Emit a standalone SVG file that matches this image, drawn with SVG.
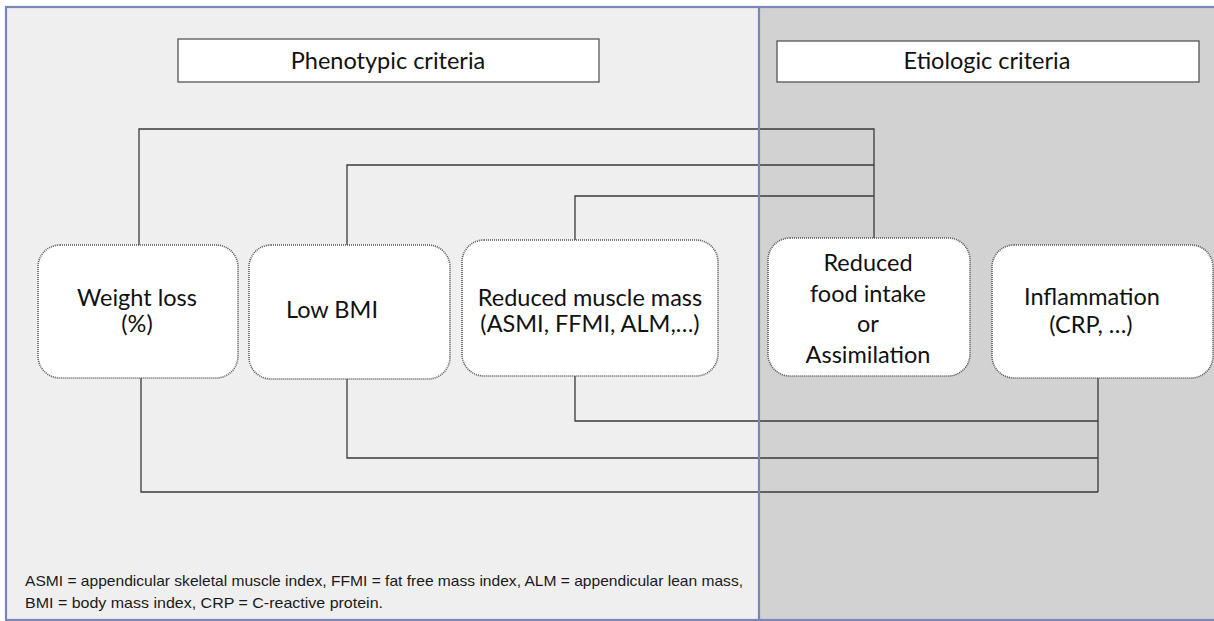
<svg xmlns="http://www.w3.org/2000/svg" width="1214" height="621" viewBox="0 0 1214 621">
<style>
.hdr{fill:#fff;stroke:#555;stroke-width:1.3}
.node{fill:#fff;stroke:#555;stroke-width:1.6;stroke-dasharray:1 1}
.t{font-family:Lato,"Open Sans","Liberation Sans",sans-serif;font-size:23.5px;fill:#111;text-anchor:middle}
.con{fill:none;stroke:#3a3a3a;stroke-width:1.3}
.foot{font-family:"Liberation Sans",Arial,sans-serif;font-size:14.5px;fill:#1a1a1a}
</style>
<rect x="0" y="0" width="1214" height="621" fill="#ffffff"/>
<rect x="6" y="7" width="753" height="613" fill="#efefef"/>
<rect x="759" y="7" width="460" height="613" fill="#d2d2d2"/>
<g id="connectors">
<path class="con" d="M139,245 V129 H874 V238"/>
<path class="con" d="M347,245 V165 H874"/>
<path class="con" d="M575,240 V196 H874"/>
<path class="con" d="M575,376 V421 H1098"/>
<path class="con" d="M347,379 V458 H1098"/>
<path class="con" d="M141,378 V492 H1098"/>
<path class="con" d="M1098,378 V492"/>
</g>
<rect x="6" y="7" width="1214" height="613" fill="none" stroke="#7a86b8" stroke-width="2.2"/>
<line x1="759" y1="7" x2="759" y2="621" stroke="#7a86b8" stroke-width="2.2"/>
<g id="phenotypic">
<rect class="hdr" x="178" y="39" width="421" height="43"/>
<text class="t" x="388" y="69">Phenotypic criteria</text>
</g>
<g id="etiologic">
<rect class="hdr" x="777" y="41" width="422" height="41"/>
<text class="t" x="987" y="69">Etiologic criteria</text>
</g>
<g id="weight-loss">
<rect class="node" x="38" y="245" width="200" height="133" rx="22"/>
<text class="t" x="137" y="306">Weight loss</text>
<text class="t" x="137" y="332">(%)</text>
</g>
<g id="low-bmi">
<rect class="node" x="249" y="245" width="201" height="134" rx="22"/>
<text class="t" x="332" y="318">Low BMI</text>
</g>
<g id="muscle">
<rect class="node" x="462" y="240" width="256" height="136" rx="22"/>
<text class="t" x="590" y="306">Reduced muscle mass</text>
<text class="t" x="590" y="332">(ASMI, FFMI, ALM,…)</text>
</g>
<g id="food">
<rect class="node" x="768" y="238" width="202" height="138" rx="22"/>
<text class="t" x="868" y="271">Reduced</text>
<text class="t" x="868" y="302">food intake</text>
<text class="t" x="868" y="332">or</text>
<text class="t" x="868" y="363">Assimilation</text>
</g>
<g id="inflammation">
<rect class="node" x="992" y="245" width="221" height="133" rx="22"/>
<text class="t" x="1092" y="305">Inflammation</text>
<text class="t" x="1091" y="333">(CRP, …)</text>
</g>
<g id="footnote">
<text class="foot" x="25" y="586" textLength="718" lengthAdjust="spacingAndGlyphs">ASMI = appendicular skeletal muscle index, FFMI = fat free mass index, ALM = appendicular lean mass,</text>
<text class="foot" x="25" y="608" textLength="358" lengthAdjust="spacingAndGlyphs">BMI = body mass index, CRP = C-reactive protein.</text>
</g>
</svg>
